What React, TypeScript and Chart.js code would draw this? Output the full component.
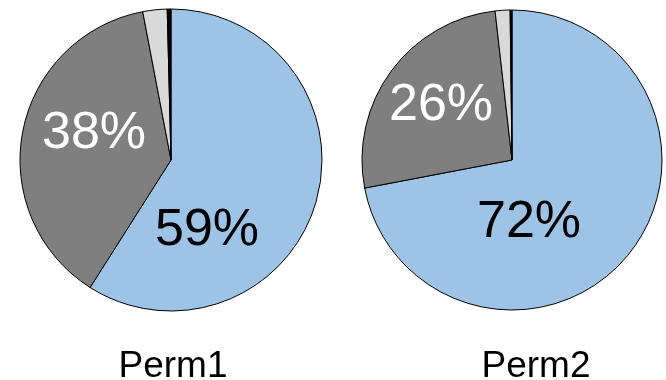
import React, { useEffect, useRef } from "react";
import { Chart, registerables } from "chart.js";

Chart.register(...registerables);

const categories = ["Group A", "Group B", "Group C", "Group D"];
const chartNames = ["Perm1", "Perm2"];
const perm1Values = [59, 38, 2.6, 0.4];
const perm2Values = [72, 26.2, 1.6, 0.2];
const sliceColors = ["#9DC3E6", "#7F7F7F", "#D9D9D9", "#000000"];
const labelColors = ["#000000", "#FFFFFF"];

const FONT = "'Liberation Sans', Arial, sans-serif";

type PieSpec = {
  name: string;
  values: number[];
  left: number;
  width: number;
  padding: { left: number; right: number; top: number; bottom: number };
  labelOffsets: [number, number][];
  nameOffset: [number, number];
};

const pies: PieSpec[] = [
  {
    name: chartNames[0],
    values: perm1Values,
    left: 0,
    width: 340,
    padding: { left: 19.5, right: 17.5, top: 8.5, bottom: 68.5 },
    labelOffsets: [
      [36, 85],
      [-77, -12],
    ],
    nameOffset: [2, 217],
  },
  {
    name: chartNames[1],
    values: perm2Values,
    left: 340,
    width: 326,
    padding: { left: 21.5, right: 3.5, top: 9.5, bottom: 69.5 },
    labelOffsets: [
      [17, 77],
      [-71, -40],
    ],
    nameOffset: [24, 217],
  },
];

function PieCanvas({ spec }: { spec: PieSpec }) {
  const ref = useRef<HTMLCanvasElement | null>(null);
  useEffect(() => {
    if (!ref.current) return;
    const textPlugin = {
      id: "pieText",
      afterDraw(chart: any) {
        const ctx = chart.ctx;
        const meta = chart.getDatasetMeta(0);
        const arc = meta.data[0];
        if (!arc) return;
        const cx = arc.x;
        const cy = arc.y;
        const vals = chart.data.datasets[0].data as number[];
        ctx.save();
        ctx.textAlign = "center";
        ctx.textBaseline = "alphabetic";
        ctx.font = `52px ${FONT}`;
        spec.labelOffsets.forEach(([dx, dy], i) => {
          ctx.fillStyle = labelColors[i];
          ctx.fillText(`${Math.round(vals[i])}%`, cx + dx, cy + dy);
        });
        ctx.font = `37px ${FONT}`;
        ctx.fillStyle = "#000000";
        ctx.fillText(spec.name, cx + spec.nameOffset[0], cy + spec.nameOffset[1]);
        ctx.restore();
      },
    };
    const chart = new Chart(ref.current, {
      type: "pie",
      data: {
        labels: categories,
        datasets: [
          {
            data: spec.values,
            backgroundColor: sliceColors,
            borderColor: "#000000",
            borderWidth: 1,
          },
        ],
      },
      options: {
        responsive: false,
        animation: false,
        layout: { padding: spec.padding },
        plugins: {
          legend: { display: false },
          tooltip: { enabled: false },
          title: { display: false },
        },
      },
      plugins: [textPlugin],
    });
    return () => chart.destroy();
  }, [spec]);
  return (
    <canvas
      ref={ref}
      width={spec.width}
      height={380}
      style={{ position: "absolute", left: spec.left, top: 0, width: spec.width, height: 380 }}
    />
  );
}

export default function App() {
  return (
    <div
      style={{
        position: "absolute",
        left: 0,
        top: 0,
        width: 666,
        height: 380,
        background: "#FFFFFF",
        overflow: "hidden",
      }}
    >
      {pies.map((p) => (
        <PieCanvas key={p.name} spec={p} />
      ))}
    </div>
  );
}
